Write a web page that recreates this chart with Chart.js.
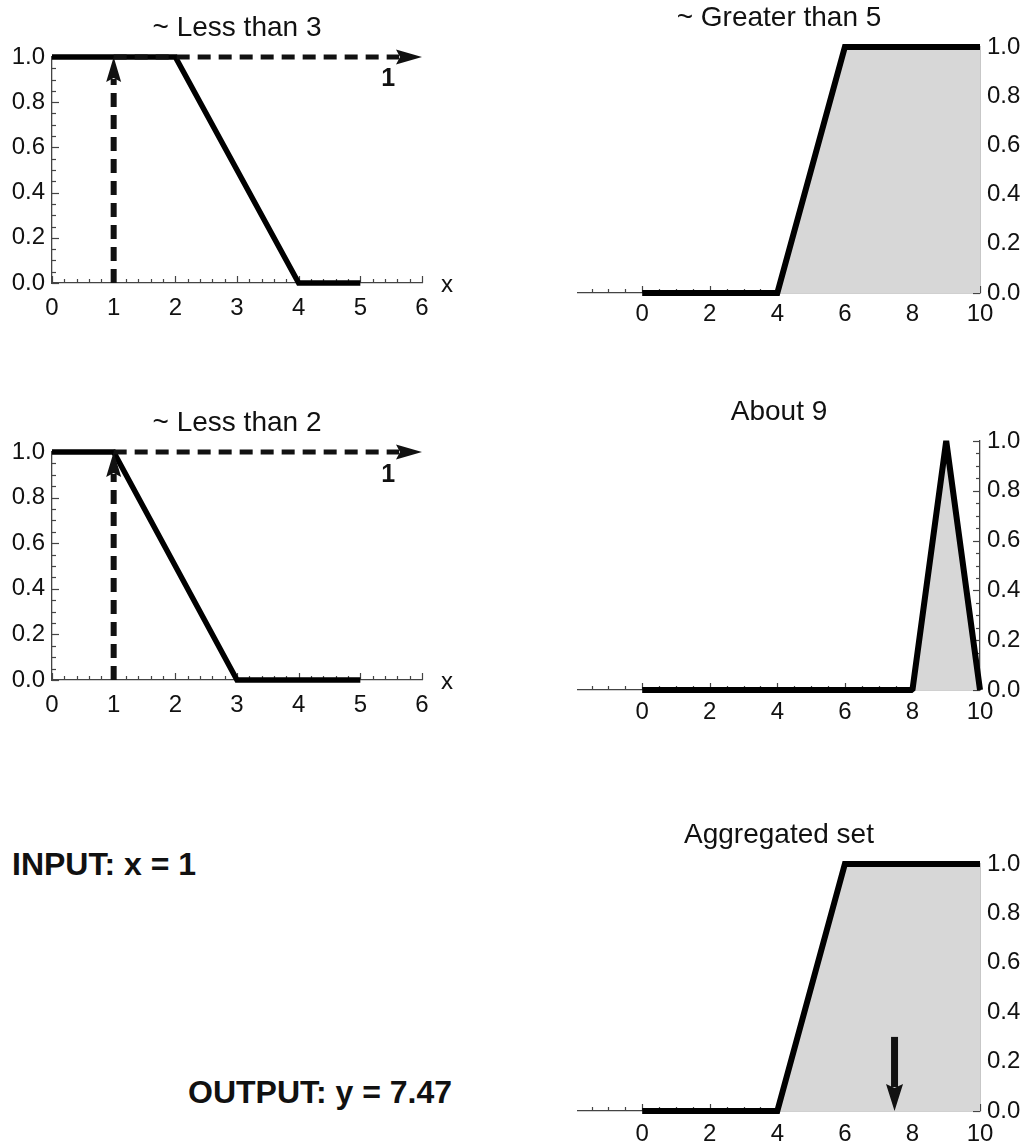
<!DOCTYPE html>
<html>
<head>
<meta charset="utf-8">
<script src="https://cdn.jsdelivr.net/npm/chart.js@4.4.1/dist/chart.umd.min.js"></script>
<style>
  body { margin: 0; background: #fff; width: 1025px; height: 1145px; position: relative; overflow: hidden; }
  canvas { position: absolute; }
  .note { position: absolute; font: bold 32px Arial, "Liberation Sans", sans-serif; line-height: 1; color: #111; white-space: nowrap; }
</style>
</head>
<body>
<canvas id="less3" style="left:0;top:0" width="475" height="330"></canvas>
<canvas id="greater5" style="left:560px;top:0" width="465" height="340"></canvas>
<canvas id="less2" style="left:0;top:375px" width="475" height="350"></canvas>
<canvas id="about9" style="left:560px;top:375px" width="465" height="360"></canvas>
<canvas id="aggregated" style="left:560px;top:760px" width="465" height="385"></canvas>
<div class="note" style="left:12px;top:848px">INPUT: x = 1</div>
<div class="note" style="left:188px;top:1076px">OUTPUT: y = 7.47</div>

<script>
// membership functions (breakpoints)
const less3X = [0, 2, 4, 5];
const less3Y = [1, 1, 0, 0];
const less2X = [0, 1, 3, 5];
const less2Y = [1, 1, 0, 0];
const greater5X = [0, 4, 6, 10];
const greater5Y = [0, 0, 1, 1];
const about9X = [0, 8, 9, 10];
const about9Y = [0, 0, 1, 0];
const aggregatedX = [0, 4, 6, 10];
const aggregatedY = [0, 0, 1, 1];

// crisp input / firing strengths / defuzzified output
const inputX = 1;
const firingLess3 = 1;
const firingLess2 = 1;
const inputXMax = 6;
const outputY = 7.47;
const outputArrowTop = 0.3;

// tick labels
const leftXTicks = [0, 1, 2, 3, 4, 5, 6];
const rightXTicks = [0, 2, 4, 6, 8, 10];
const yTicks = [0, 0.2, 0.4, 0.6, 0.8, 1.0];

const FONT = 'Arial, "Liberation Sans", sans-serif';
const AXIS = '#444';
const FILL = '#d7d7d7';

const pts = (xs, ys) => xs.map((x, i) => ({ x: x, y: ys[i] }));

// inward ticks, title and loose labels
const decorPlugin = {
  id: 'decor',
  beforeDatasetsDraw(chart, args, o) {
    const ctx = chart.ctx, xs = chart.scales.x, ys = chart.scales.y;
    const base = ys.getPixelForValue(0);
    ctx.save();
    ctx.strokeStyle = AXIS;
    ctx.lineWidth = 1.2;
    // x ticks pointing up from the axis
    for (let v = Math.ceil(xs.min / o.xMinor) * o.xMinor; v <= xs.max + 1e-9; v += o.xMinor) {
      const major = Math.abs(v / o.xMajor - Math.round(v / o.xMajor)) < 1e-6;
      const px = Math.round(xs.getPixelForValue(v)) + 0.5;
      ctx.beginPath();
      ctx.moveTo(px, base);
      ctx.lineTo(px, base - (major ? 7 : 4));
      ctx.stroke();
    }
    // y ticks pointing into the plot
    const yx = ys.position === 'right' ? chart.chartArea.right : chart.chartArea.left;
    const dir = ys.position === 'right' ? -1 : 1;
    for (let v = 0; v <= 1 + 1e-9; v += 0.05) {
      const major = Math.abs(v / 0.2 - Math.round(v / 0.2)) < 1e-6;
      const py = Math.round(ys.getPixelForValue(v)) + 0.5;
      ctx.beginPath();
      ctx.moveTo(yx, py);
      ctx.lineTo(yx + dir * (major ? 7 : 4), py);
      ctx.stroke();
    }
    ctx.restore();
  },
  afterDraw(chart, args, o) {
    const ctx = chart.ctx, a = chart.chartArea, xs = chart.scales.x, ys = chart.scales.y;
    ctx.save();
    ctx.fillStyle = '#111';
    ctx.textAlign = 'center';
    ctx.font = '28px ' + FONT;
    ctx.fillText(o.title, (a.left + a.right) / 2, a.top - 21);
    if (o.axisName) {
      ctx.font = '24px ' + FONT;
      ctx.textBaseline = 'middle';
      ctx.fillText(o.axisName, a.right + 25, a.bottom + 2);
    }
    if (o.firing !== undefined) {
      ctx.font = 'bold 25px ' + FONT;
      ctx.textBaseline = 'middle';
      ctx.fillText(String(o.firing), xs.getPixelForValue(5.45), ys.getPixelForValue(o.firing * 0.9));
    }
    ctx.restore();
  }
};

// arrows: shaft (optionally dashed) plus notched head, from the dataset's own points
const arrowPlugin = {
  id: 'arrows',
  afterDatasetsDraw(chart) {
    const ctx = chart.ctx;
    chart.data.datasets.forEach((ds, i) => {
      if (!ds.arrow) return;
      const p = chart.getDatasetMeta(i).data;
      const p0 = p[0], p1 = p[p.length - 1];
      const dx = p1.x - p0.x, dy = p1.y - p0.y, len = Math.hypot(dx, dy);
      const ux = dx / len, uy = dy / len;
      const A = ds.arrow;
      const bx = p1.x - ux * A.head, by = p1.y - uy * A.head;
      ctx.save();
      ctx.strokeStyle = '#111';
      ctx.fillStyle = '#111';
      ctx.lineWidth = A.width;
      ctx.setLineDash(A.dash || []);
      ctx.beginPath();
      ctx.moveTo(p0.x, p0.y);
      ctx.lineTo(bx + ux * 3, by + uy * 3);
      ctx.stroke();
      ctx.setLineDash([]);
      ctx.beginPath();
      ctx.moveTo(p1.x, p1.y);
      ctx.lineTo(bx - uy * A.half, by + ux * A.half);
      ctx.lineTo(bx + ux * 4, by + uy * 4);
      ctx.lineTo(bx + uy * A.half, by - ux * A.half);
      ctx.closePath();
      ctx.fill();
      ctx.restore();
    });
  }
};

function curve(xs, ys, filled, width, join) {
  return {
    data: pts(xs, ys),
    showLine: true,
    borderColor: '#000',
    borderWidth: width,
    backgroundColor: FILL,
    fill: filled ? 'origin' : false,
    pointRadius: 0,
    tension: 0,
    clip: false,
    borderJoinStyle: join || 'miter'
  };
}

function arrowSet(x0, y0, x1, y1, arrow) {
  return { data: [{ x: x0, y: y0 }, { x: x1, y: y1 }], showLine: false, pointRadius: 0, arrow: arrow };
}

function makeChart(id, cfg) {
  const fixedTicks = list => scale => { scale.ticks = list.map(v => ({ value: v })); };
  return new Chart(document.getElementById(id), {
    type: 'scatter',
    data: { datasets: cfg.datasets },
    options: {
      responsive: false,
      animation: false,
      devicePixelRatio: 1,
      layout: { padding: cfg.padding },
      plugins: { legend: { display: false }, tooltip: { enabled: false }, decor: cfg.decor },
      scales: {
        x: {
          type: 'linear', min: cfg.xMin, max: cfg.xMax,
          afterBuildTicks: fixedTicks(cfg.xTicks),
          afterFit: s => { s.height = cfg.xHeight; },
          grid: { display: false, drawTicks: false },
          border: { display: true, color: AXIS, width: 1.3 },
          ticks: { color: '#111', padding: cfg.xPad, maxRotation: 0, font: { family: FONT, size: 24 } }
        },
        y: {
          type: 'linear', position: cfg.yPos, min: 0, max: 1,
          afterBuildTicks: fixedTicks(yTicks),
          afterFit: s => { s.width = cfg.yWidth; },
          grid: { display: false, drawTicks: false },
          border: { display: true, color: AXIS, width: 1.3 },
          ticks: { color: '#111', padding: 7, font: { family: FONT, size: 24 }, callback: v => v.toFixed(1) }
        }
      }
    },
    plugins: [decorPlugin, arrowPlugin]
  });
}

const hDash = { width: 5, dash: [13, 8], head: 26, half: 7.5 };
const vDash = { width: 6, dash: [14, 8], head: 25, half: 7.5 };

// ~ Less than 3
makeChart('less3', {
  datasets: [
    curve(less3X, less3Y, false, 5.5),
    arrowSet(inputX, 0, inputX, firingLess3, vDash),
    arrowSet(inputX, firingLess3, inputXMax, firingLess3, hDash)
  ],
  xMin: 0, xMax: 6, xTicks: leftXTicks, xHeight: 47, xPad: 11, yPos: 'left', yWidth: 52,
  padding: { top: 57, right: 53, left: 0, bottom: 0 },
  decor: { title: '~ Less than 3', xMinor: 0.2, xMajor: 1, axisName: 'x', firing: firingLess3 }
});

// ~ Less than 2
makeChart('less2', {
  datasets: [
    curve(less2X, less2Y, false, 5.5),
    arrowSet(inputX, 0, inputX, firingLess2, vDash),
    arrowSet(inputX, firingLess2, inputXMax, firingLess2, hDash)
  ],
  xMin: 0, xMax: 6, xTicks: leftXTicks, xHeight: 45, xPad: 11, yPos: 'left', yWidth: 52,
  padding: { top: 77, right: 53, left: 0, bottom: 0 },
  decor: { title: '~ Less than 2', xMinor: 0.2, xMajor: 1, axisName: 'x', firing: firingLess2 }
});

// ~ Greater than 5
makeChart('greater5', {
  datasets: [curve(greater5X, greater5Y, true, 6)],
  xMin: -1.9, xMax: 10, xTicks: rightXTicks, xHeight: 47, xPad: 7, yPos: 'right', yWidth: 45,
  padding: { top: 47, right: 0, left: 18, bottom: 0 },
  decor: { title: '~ Greater than 5', xMinor: 0.5, xMajor: 2 }
});

// About 9
makeChart('about9', {
  datasets: [curve(about9X, about9Y, true, 6, 'bevel')],
  xMin: -1.9, xMax: 10, xTicks: rightXTicks, xHeight: 45, xPad: 8, yPos: 'right', yWidth: 45,
  padding: { top: 66, right: 0, left: 18, bottom: 0 },
  decor: { title: 'About 9', xMinor: 0.5, xMajor: 2 }
});

// Aggregated set with the centroid marked
makeChart('aggregated', {
  datasets: [
    curve(aggregatedX, aggregatedY, true, 6),
    arrowSet(outputY, outputArrowTop, outputY, 0, { width: 7, head: 27, half: 8.5 })
  ],
  xMin: -1.9, xMax: 10, xTicks: rightXTicks, xHeight: 34, xPad: 9, yPos: 'right', yWidth: 45,
  padding: { top: 104, right: 0, left: 18, bottom: 0 },
  decor: { title: 'Aggregated set', xMinor: 0.5, xMajor: 2 }
});
</script>
</body>
</html>
